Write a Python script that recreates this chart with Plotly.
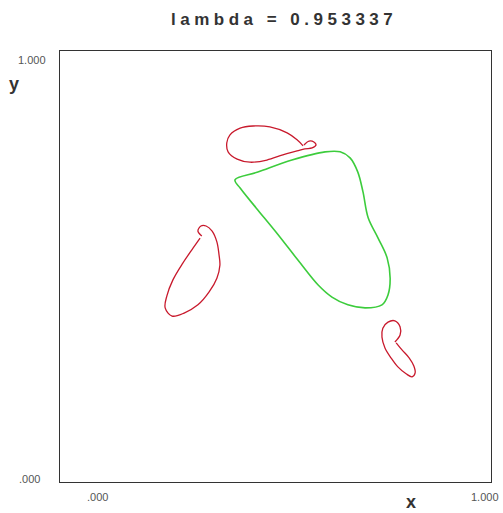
import plotly.graph_objects as go

# Closed orbit (green) and three curled loops (red) in the unit square
green_x = [0.406, 0.459, 0.538, 0.615, 0.650, 0.673, 0.691, 0.703, 0.715, 0.738, 0.759,
           0.766, 0.761, 0.747, 0.708, 0.668, 0.631, 0.599, 0.552, 0.501, 0.455, 0.418, 0.406]
green_y = [0.701, 0.719, 0.747, 0.766, 0.766, 0.752, 0.719, 0.673, 0.613, 0.566, 0.520,
           0.473, 0.434, 0.411, 0.404, 0.411, 0.429, 0.457, 0.515, 0.580, 0.636, 0.682, 0.701]

top_x = [0.566, 0.578, 0.589, 0.594, 0.585, 0.568, 0.550, 0.517, 0.480, 0.441, 0.411,
         0.390, 0.387, 0.394, 0.418, 0.448, 0.487, 0.527, 0.550, 0.564]
top_y = [0.782, 0.791, 0.789, 0.782, 0.775, 0.773, 0.768, 0.759, 0.747, 0.742, 0.749,
         0.766, 0.787, 0.805, 0.821, 0.826, 0.824, 0.810, 0.794, 0.780]

left_x = [0.329, 0.320, 0.327, 0.339, 0.353, 0.364, 0.369, 0.371, 0.364, 0.346, 0.320,
          0.288, 0.260, 0.244, 0.248, 0.262, 0.285, 0.309, 0.325]
left_y = [0.571, 0.582, 0.594, 0.594, 0.582, 0.557, 0.527, 0.503, 0.473, 0.441, 0.411,
          0.392, 0.385, 0.404, 0.432, 0.469, 0.508, 0.543, 0.566]

right_x = [0.777, 0.789, 0.789, 0.777, 0.761, 0.749, 0.747, 0.754, 0.768, 0.784, 0.803,
           0.817, 0.824, 0.821, 0.810, 0.794, 0.780]
right_y = [0.325, 0.341, 0.360, 0.374, 0.371, 0.357, 0.336, 0.311, 0.288, 0.267, 0.251,
           0.244, 0.253, 0.269, 0.288, 0.306, 0.323]

title_text = "lambda = 0.953337"
tick_labels = [".000", "1.000"]

RED = "#c8192c"
GREEN = "#3ccc3c"

fig = go.Figure()
fig.add_trace(go.Scatter(x=green_x, y=green_y, mode="lines",
                         line=dict(color=GREEN, width=1.6, shape="spline", smoothing=1.0)))
for xs, ys in [(top_x, top_y), (left_x, left_y), (right_x, right_y)]:
    fig.add_trace(go.Scatter(x=xs, y=ys, mode="lines",
                             line=dict(color=RED, width=1.3, shape="spline", smoothing=1.0)))

axis_common = dict(range=[0, 1], showgrid=False, zeroline=False, showticklabels=False,
                   ticks="", showline=True, linecolor="#333333", linewidth=1, mirror=True,
                   fixedrange=True)

tick_font = dict(family="Liberation Sans, Arial, sans-serif", size=11, color="#555555")
label_font = dict(family="Liberation Sans, Arial, sans-serif", size=18, color="#333333")

annotations = [
    dict(text=tick_labels[1], x=-0.065, y=0.979, xref="paper", yref="paper",
         showarrow=False, font=tick_font, xanchor="center", yanchor="middle"),
    dict(text=tick_labels[0], x=-0.07, y=0.007, xref="paper", yref="paper",
         showarrow=False, font=tick_font, xanchor="center", yanchor="middle"),
    dict(text=tick_labels[0], x=0.088, y=-0.035, xref="paper", yref="paper",
         showarrow=False, font=tick_font, xanchor="center", yanchor="middle"),
    dict(text=tick_labels[1], x=0.986, y=-0.035, xref="paper", yref="paper",
         showarrow=False, font=tick_font, xanchor="center", yanchor="middle"),
    dict(text="<b>y</b>", x=-0.107, y=0.923, xref="paper", yref="paper",
         showarrow=False, font=label_font, xanchor="center", yanchor="middle"),
    dict(text="<b>x</b>", x=0.814, y=-0.046, xref="paper", yref="paper",
         showarrow=False, font=label_font, xanchor="center", yanchor="middle"),
]

fig.update_layout(
    width=503, height=513,
    margin=dict(l=60, r=12, t=51, b=31),
    paper_bgcolor="white", plot_bgcolor="white",
    showlegend=False,
    xaxis=axis_common, yaxis=axis_common,
    title=dict(text='<b><span style="letter-spacing:4.5px">' + title_text + '</span></b>',
               x=0.52, xref="paper", xanchor="center",
               y=1 - 19 / 513, yref="container", yanchor="middle",
               font=dict(family="Liberation Sans, Arial, sans-serif", size=17, color="#333333")),
    annotations=annotations,
)

fig.write_html("out.html")
